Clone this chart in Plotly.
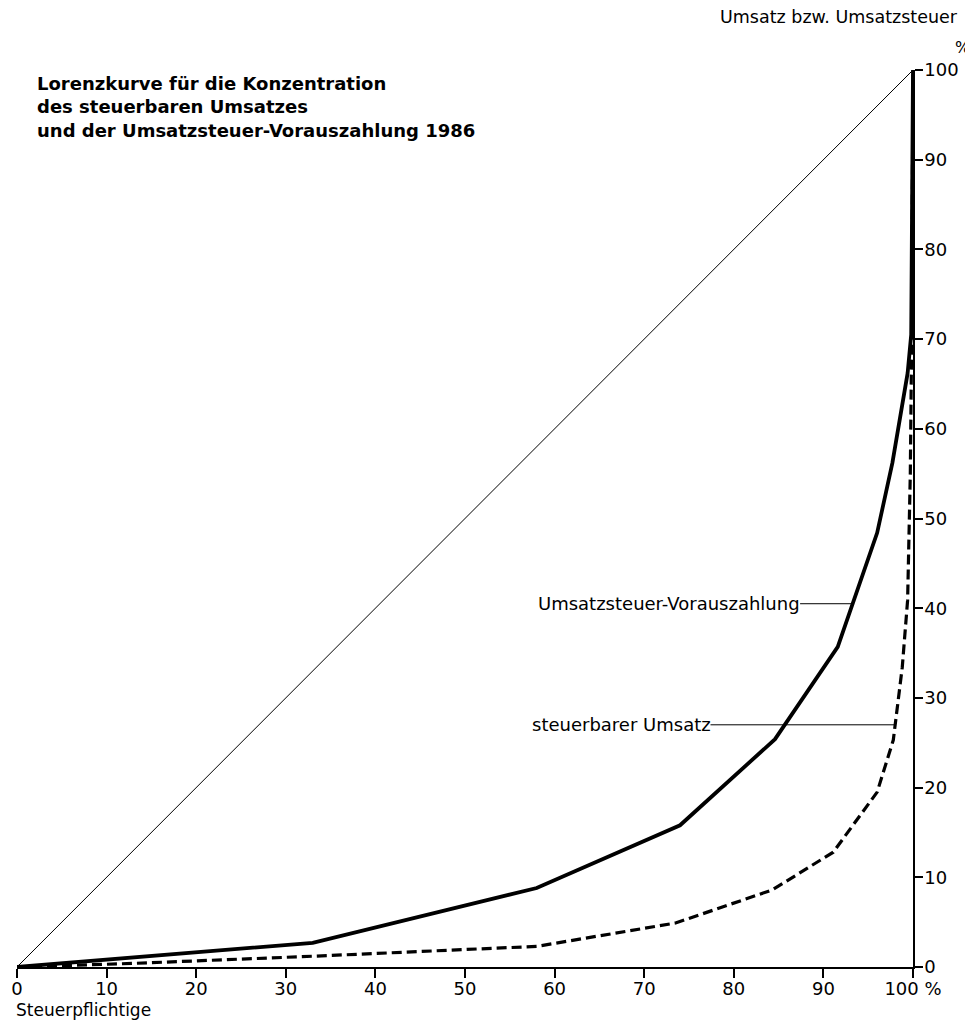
import plotly.graph_objects as go

# Data (percent values)
diag_x = [0, 100]
diag_y = [0, 100]

ust_x = [0, 13, 33, 58, 74, 84.6, 91.6, 96.0, 97.7, 99.4, 99.8, 100]
ust_y = [0, 1.1, 2.7, 8.8, 15.8, 25.4, 35.7, 48.4, 56.2, 66.2, 70.5, 100]

ums_x = [0, 13, 33, 58, 73.5, 84.3, 91.1, 96.0, 97.8, 98.8, 99.4, 99.7, 99.85, 100]
ums_y = [0, 0.4, 1.2, 2.3, 4.9, 8.6, 12.8, 19.5, 25.3, 33.4, 40.9, 55, 70, 100]

x_ticks = [0, 10, 20, 30, 40, 50, 60, 70, 80, 90, 100]
x_ticktext = ["0", "10", "20", "30", "40", "50", "60", "70", "80", "90", "100 %"]
y_ticks = [0, 10, 20, 30, 40, 50, 60, 70, 80, 90, 100]

FONT = "DejaVu Sans"

# page offset (browser body margin) and plot area in screen pixels
OFF = 8
L, R, T, B = 17 - OFF, 913 - OFF, 70 - OFF, 967 - OFF
W, H = R - L, B - T


def px(xs):
    return (xs - OFF - L) / W


def py(ys):
    return (B - (ys - OFF)) / H


fig = go.Figure()
fig.add_trace(go.Scatter(x=diag_x, y=diag_y, mode="lines",
                         line=dict(color="black", width=1), showlegend=False, hoverinfo="skip"))
fig.add_trace(go.Scatter(x=ums_x, y=ums_y, mode="lines",
                         line=dict(color="black", width=3.2, dash="10px,5px"), showlegend=False))
fig.add_trace(go.Scatter(x=ust_x, y=ust_y, mode="lines",
                         line=dict(color="black", width=3.8), showlegend=False))

# Leader lines for labels
fig.add_shape(type="line", x0=87.4, x1=93.4, y0=40.5, y1=40.5, xref="x", yref="y",
              line=dict(color="black", width=1))
fig.add_shape(type="line", x0=77.4, x1=98.0, y0=27.0, y1=27.0, xref="x", yref="y",
              line=dict(color="black", width=1))

fig.add_annotation(x=87.4, y=40.5, xref="x", yref="y", text="Umsatzsteuer-Vorauszahlung",
                   showarrow=False, xanchor="right", yanchor="middle", xshift=2,
                   font=dict(family=FONT, size=18, color="black"))
fig.add_annotation(x=77.4, y=27.0, xref="x", yref="y", text="steuerbarer Umsatz",
                   showarrow=False, xanchor="right", yanchor="middle", xshift=2,
                   font=dict(family=FONT, size=18, color="black"))

# Title
title_lines = ["Lorenzkurve für die Konzentration",
               "des steuerbaren Umsatzes",
               "und der Umsatzsteuer-Vorauszahlung 1986"]
fig.add_annotation(x=px(35), y=py(71), xref="paper", yref="paper",
                   text="<br>".join("<b>%s</b>" % t for t in title_lines),
                   showarrow=False, xanchor="left", yanchor="top", align="left",
                   font=dict(family=FONT, size=18, color="black"))

fig.add_annotation(x=px(960), y=py(17), xref="paper", yref="paper",
                   text="Umsatz bzw. Umsatzsteuer", showarrow=False,
                   xanchor="right", yanchor="middle",
                   font=dict(family=FONT, size=17.5, color="black"))
fig.add_annotation(x=px(962), y=py(47), xref="paper", yref="paper",
                   text="%", showarrow=False, xanchor="center", yanchor="middle",
                   font=dict(family=FONT, size=16, color="black"))
fig.add_annotation(x=px(14), y=py(1010), xref="paper", yref="paper",
                   text="Steuerpflichtige", showarrow=False, xanchor="left", yanchor="middle",
                   font=dict(family=FONT, size=17, color="black"))

fig.update_xaxes(range=[0, 100], tickvals=x_ticks, ticktext=x_ticktext, automargin=False,
                 showgrid=False, zeroline=False, showline=True, linecolor="black",
                 linewidth=1.5, ticks="outside", ticklen=9, tickwidth=1.5, tickcolor="black",
                 ticklabelstandoff=-4,
                 tickfont=dict(family=FONT, size=18, color="black"))
fig.update_yaxes(range=[0, 100], tickvals=y_ticks, side="right", automargin=False,
                 showgrid=False, zeroline=False, showline=True, linecolor="black",
                 linewidth=1.5, ticks="outside", ticklen=8, tickwidth=1.5, tickcolor="black",
                 ticklabelstandoff=-2,
                 tickfont=dict(family=FONT, size=18, color="black"))

fig.update_layout(width=973, height=1023, margin=dict(l=L, r=973 - R, t=T, b=1023 - B),
                  plot_bgcolor="white", paper_bgcolor="white")

fig.write_html("out.html")
